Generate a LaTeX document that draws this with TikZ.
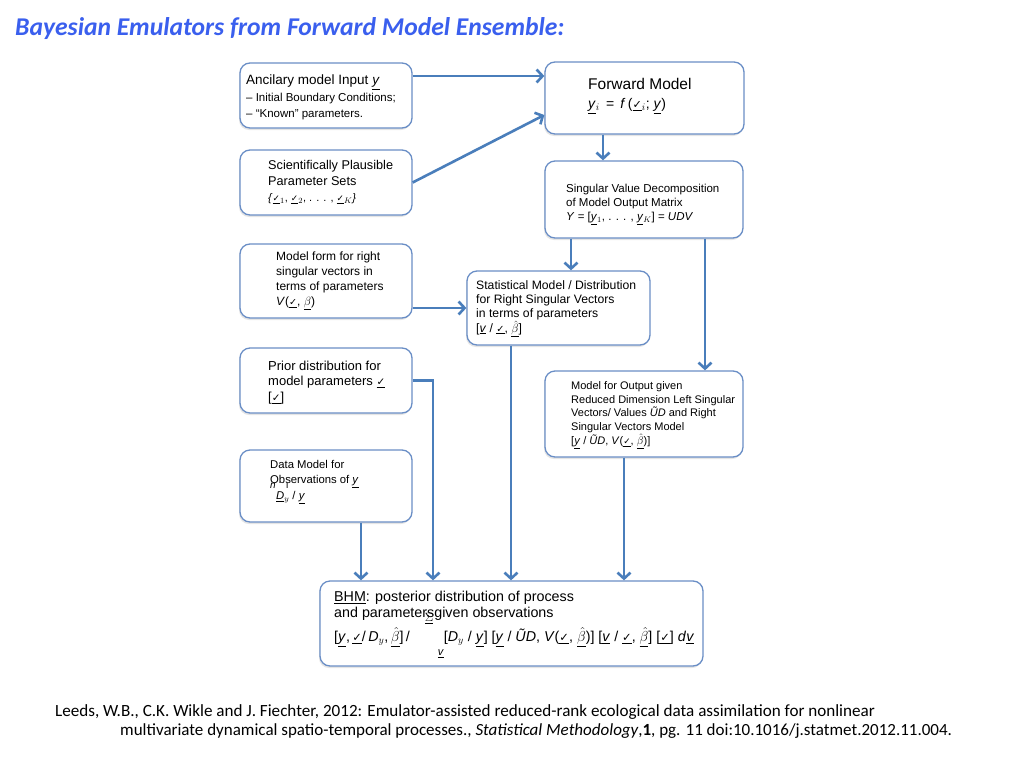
\documentclass[tikz,border=0pt]{standalone}
\usepackage{fontspec}
\setmainfont{Liberation Sans}
\newfontfamily\calib{Carlito}
\newfontfamily\djv{DejaVu Sans}
\usetikzlibrary{arrows.meta,shadows}
\definecolor{boxblue}{HTML}{6A8EC6}
\definecolor{arrblue}{HTML}{4A7EBB}
\definecolor{titleblue}{HTML}{3A5FEE}
\newcommand{\chk}{\underline{\scalebox{0.8}{\djv ✓}}}
\newcommand{\uy}{\underline{\textit{y}}}
\newcommand{\ubh}{\underline{$\hat{\beta}$}}
\newcommand{\fs}[2]{\fontsize{#1}{#2}\selectfont}
\begin{document}
\begin{tikzpicture}[x=1pt,y=-1pt,
  box/.style={draw=boxblue, line width=1.3pt, rounded corners=10pt, fill=white,
    drop shadow={shadow xshift=-1pt, shadow yshift=-2pt, opacity=0.2}},
  txt/.style={anchor=west, align=left, inner sep=0pt, text=black},
  arr/.style={draw=arrblue, line width=2.6pt, -{Straight Barb[length=6pt,width=13pt]}}]
\useasboundingbox (0,0) rectangle (1024,768);
\fill[white] (0,0) rectangle (1024,768);

% title
\node[anchor=base west, inner sep=0pt, text=titleblue, font={\calib\bfseries\itshape\fs{25.6}{30}}] (title) at (15,36)
  {Bayesian Emulators from Forward Model Ensemble:};

% boxes
\node[box, minimum width=172, minimum height=65] (anc) at (326,95.5) {};
\node[box, minimum width=199, minimum height=72] (fwd) at (644.5,98) {};
\node[box, minimum width=172, minimum height=65] (sci) at (326,182.5) {};
\node[box, minimum width=198, minimum height=77] (svd) at (644,199.5) {};
\node[box, minimum width=172, minimum height=74] (mf) at (326,281) {};
\node[box, minimum width=183, minimum height=74] (stat) at (558.5,308) {};
\node[box, minimum width=172, minimum height=65] (prior) at (326,380.5) {};
\node[box, minimum width=198, minimum height=86] (out) at (644,414) {};
\node[box, minimum width=172, minimum height=72] (data) at (326,486) {};
\node[box, minimum width=383, minimum height=85] (bhm) at (511.5,623.5) {};

% texts
\node[txt, font={\fs{11.5}{16.5}}] (anct) at (246,97.5) {\fs{13.5}{16.5}Ancilary model Input \uy\\
  -- Initial Boundary Conditions;\\ -- “Known” parameters.};
\node[txt, font={\fs{14}{19}}] (fwdt) at (588,96) {\fs{15.5}{19}Forward Model\\
  \underline{\textit{y}}$_{i}$ \,=\, \textit{f}\,(\chk$_{i}$; \uy)};
\node[txt, font={\fs{12.7}{16}}] (scit) at (268,182.5) {Scientifically Plausible\\ Parameter Sets\\
  \fs{11}{16}\textit{\{}\chk$_1$, \chk$_2$, . . . , \chk$_K$\textit{\}}};
\node[txt, font={\fs{11.5}{14}}] (svdt) at (566,204.5) {Singular Value Decomposition\\ of Model Output Matrix\\
  \textit{Y} = [\uy$_1$, . . . , \uy$_K$] = \textit{UDV}};
\node[txt, font={\fs{12}{15}}] (mft) at (276,281) {Model form for right\\ singular vectors in\\ terms of parameters\\
  \textit{V}(\chk, \underline{$\beta$})};
\node[txt, font={\fs{12.2}{14.3}}] (statt) at (476,308.5) {Statistical Model / Distribution\\ for Right Singular Vectors\\ in terms of parameters\\
  \relax[\underline{\textit{v}} / \chk, \ubh]};
\node[txt, font={\fs{13}{15.5}}] (priort) at (268,382.5) {Prior distribution for\\ model parameters \chk\\ \relax[\chk]};
\node[txt, font={\fs{11}{13.75}}] (outt) at (571,415) {Model for Output given\\ Reduced Dimension Left Singular\\
  Vectors/ Values \textit{\~UD} and Right\\ Singular Vectors Model\\
  \relax[\uy{} / \textit{\~UD}, \textit{V}(\chk, \ubh)]};
\node[txt, font={\fs{11.3}{15.5}}] (datat) at (270,482) {Data Model for\\
  \rlap{\raisebox{-5pt}{\fs{10}{10}\textit{n}\hspace{10pt}ı}}Observations of \uy\\
  \hspace*{6pt}\underline{\textit{D}}$_y$ / \uy};
\node[txt, font={\fs{14.3}{16}}] (bhmt) at (334,624.5) {\underline{BHM}: posterior distribution of process\\
  and parameters\llap{\raisebox{-4pt}{\fs{12}{12}$\underline{\Sigma}$}\hspace{1pt}}given observations\\[3pt]
  \relax[\uy,\,\chk/\,\textit{D}$_y$,\,\ubh]\,/\hspace{28pt}\raisebox{-14pt}{\fs{11}{11}\underline{\textit{v}}}[\textit{D}$_y$ / \uy] [\uy{} / \textit{\~UD}, \textit{V}(\chk, \ubh)] [\underline{\textit{v}} / \chk, \ubh] [\chk] \textit{d}\underline{\textit{v}}};

% citation
\node[anchor=base west, inner sep=0pt, font={\calib\fs{17.1}{20}}] (cit1) at (55,716)
  {Leeds, W.B., C.K. Wikle and J. Fiechter, 2012: Emulator-assisted reduced-rank ecological data assimilation for nonlinear};
\node[anchor=base west, inner sep=0pt, font={\calib\fs{17}{20}}] (cit2) at (120,735)
  {multivariate dynamical spatio-temporal processes., \textit{Statistical Methodology},\textbf{1}, pg. 11 doi:10.1016/j.statmet.2012.11.004.};

% connectors
\coordinate (a76) at (0,76);
\coordinate (f115) at (0,115);
\coordinate (x603) at (603,0);
\coordinate (x571) at (571,0);
\coordinate (x705) at (705,0);
\coordinate (x433) at (433,0);
\coordinate (x361) at (361,0);
\coordinate (x511) at (511,0);
\coordinate (x624) at (624,0);
\draw[arr] (anc.east |- a76) -- (fwd.west |- a76);
\draw[arr] (sci.east) -- (fwd.west |- f115);
\draw[arr] (fwd.south -| x603) -- (svd.north -| x603);
\draw[arr] (svd.south -| x571) -- (stat.north -| x571);
\draw[arr] (svd.south -| x705) -- (out.north -| x705);
\draw[arr] (mf.east |- stat.west) -- (stat.west);
\draw[arr] (prior.east) -| (bhm.north -| x433);
\draw[arr] (data.south -| x361) -- (bhm.north -| x361);
\draw[arr] (stat.south -| x511) -- (bhm.north -| x511);
\draw[arr] (out.south -| x624) -- (bhm.north -| x624);
\end{tikzpicture}
\end{document}
